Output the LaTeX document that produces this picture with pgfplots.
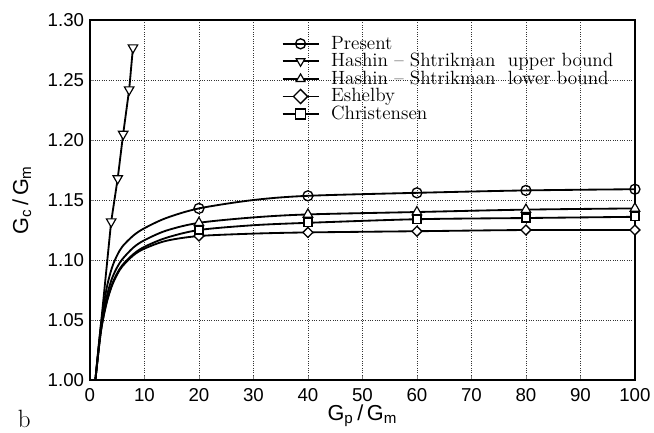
\documentclass[border=0pt]{standalone}
\usepackage{fontspec}
\usepackage{pgfplots}
\pgfplotsset{compat=1.18}
\newfontfamily\arial{Liberation Sans}

\begin{document}
\begin{tikzpicture}
\begin{axis}[
    scale only axis,
    width=327pt,
    height=216pt,
    xmin=0, xmax=100,
    ymin=1, ymax=1.3,
    clip=false,
    xtick={0,10,...,100},
    ytick={1.00,1.05,1.10,1.15,1.20,1.25,1.30},
    tick pos=left,
    major tick length=2.5pt,
    grid=major,
    grid style={densely dotted, black!80, line width=0.5pt},
    axis line style={line width=0.9pt},
    /pgf/number format/assume math mode=true,
    tick label style={font=\arial\fontsize{11.2}{13}\selectfont},
    xticklabel style={yshift=-1.5pt},
    yticklabel style={/pgf/number format/.cd, fixed, fixed zerofill, precision=2},
    xlabel={G\textsubscript{p}\,/\,G\textsubscript{m}},
    ylabel={G\textsubscript{c}\,/\,G\textsubscript{m}},
    label style={font=\arial\fontsize{13}{15}\selectfont},
    xlabel style={at={(axis description cs:0.5,-0.098)}, anchor=center},
    ylabel style={at={(axis description cs:-0.125,0.5)}, anchor=center},
    every axis plot/.append style={line width=1.1pt, black},
    legend style={draw=none, fill=none, at={(axis description cs:0.342,0.975)},
        anchor=north west, font=\fontsize{11.5}{13}\selectfont,
        row sep=-3pt, legend cell align=left},
    legend image code/.code={
        \draw[mark indices={2}, mark size=3pt] plot coordinates {(0pt,0pt) (10.8pt,0pt) (21.6pt,0pt)};},
]
% Present
\addplot[smooth, mark=o, mark size=3pt, mark options={solid, fill=white, line width=0.8pt},
    mark indices={10,12,13,14,15}] coordinates {
    (1,1.000) (2,1.045) (3,1.075) (4,1.093) (5,1.104) (6,1.1115) (8,1.1205)
    (10,1.1265) (14,1.135) (20,1.143) (30,1.150) (40,1.1535) (60,1.156)
    (80,1.158) (100,1.159)
};
\addlegendentry{\hspace*{5pt}Present}

% Hashin-Shtrikman upper bound
\addplot[mark=triangle*, mark size=3.3pt,
    mark options={solid, fill=white, rotate=180, line width=0.7pt},
    mark indices={2,3,4,5,6}] coordinates {
    (1,1.000) (3.9,1.132) (5.1,1.168) (6.1,1.205) (7.2,1.242) (7.9,1.277)
};
\addlegendentry{\hspace*{5pt}Hashin -- Shtrikman\ \ upper bound}

% Hashin-Shtrikman lower bound
\addplot[smooth, mark=triangle*, mark size=3.3pt,
    mark options={solid, fill=white, line width=0.7pt},
    mark indices={10,12,13,14,15}] coordinates {
    (1,1.000) (2,1.042) (3,1.068) (4,1.084) (5,1.094) (6,1.101) (8,1.1105)
    (10,1.1165) (14,1.1245) (20,1.131) (30,1.1355) (40,1.138) (60,1.140)
    (80,1.142) (100,1.143)
};
\addlegendentry{\hspace*{5pt}Hashin -- Shtrikman\ \ lower bound}

% Eshelby
\addplot[smooth, mark=square*, mark size=2.1pt,
    mark options={solid, fill=white, rotate=45, line width=0.8pt},
    mark indices={10,12,13,14,15}] coordinates {
    (1,1.000) (2,1.040) (3,1.063) (4,1.078) (5,1.088) (6,1.095) (8,1.104)
    (10,1.1095) (14,1.116) (20,1.120) (30,1.122) (40,1.123) (60,1.124)
    (80,1.125) (100,1.125)
};
\addlegendentry{\hspace*{5pt}Eshelby}

% Christensen
\addplot[smooth, mark=square*, mark size=2.4pt,
    mark options={solid, fill=white, line width=0.8pt},
    mark indices={10,12,13,14,15}] coordinates {
    (1,1.000) (2,1.040) (3,1.064) (4,1.079) (5,1.089) (6,1.096) (8,1.105)
    (10,1.111) (14,1.1185) (20,1.125) (30,1.129) (40,1.131) (60,1.134)
    (80,1.135) (100,1.136)
};
\addlegendentry{\hspace*{5pt}Christensen}

\node[font=\fontsize{15}{18}\selectfont, anchor=base west]
    at (axis description cs:-0.143,-0.132) {b};
\coordinate (bl) at (axis description cs:-0.165,-0.1444);
\coordinate (tr) at (axis description cs:1.035,1.0556);
\end{axis}
\pgfresetboundingbox
\path (bl) rectangle (tr);
\end{tikzpicture}
\end{document}
